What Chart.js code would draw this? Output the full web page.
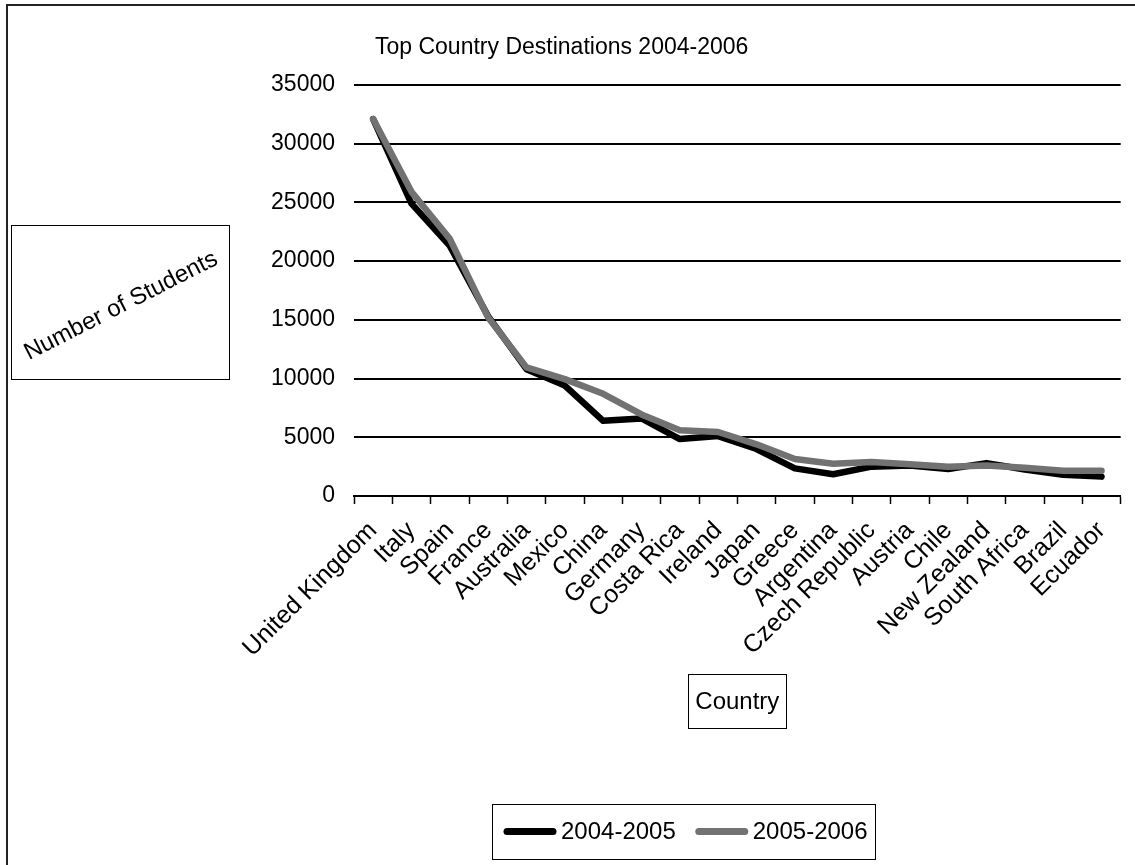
<!DOCTYPE html>
<html>
<head>
<meta charset="utf-8">
<title>Top Country Destinations 2004-2006</title>
<script src="https://cdn.jsdelivr.net/npm/chart.js@4.4.0/dist/chart.umd.min.js"></script>
<style>
  html, body { margin: 0; padding: 0; background: #ffffff; }
  #wrap { width: 1135px; height: 865px; position: relative; }
</style>
</head>
<body>
<div id="wrap"><canvas id="chart" width="1135" height="865"></canvas></div>
<script>
// Destination countries, in ranked order
const countries = [
  'United Kingdom', 'Italy', 'Spain', 'France', 'Australia', 'Mexico', 'China',
  'Germany', 'Costa Rica', 'Ireland', 'Japan', 'Greece', 'Argentina',
  'Czech Republic', 'Austria', 'Chile', 'New Zealand', 'South Africa', 'Brazil', 'Ecuador'
];

// Number of students per destination
const students2004_05 = [
  32100, 24900, 21300, 15300, 10800, 9400, 6400, 6600, 4850, 5100,
  4000, 2350, 1850, 2500, 2600, 2300, 2800, 2250, 1800, 1650
];
const students2005_06 = [
  32100, 25900, 21900, 15200, 10950, 9950, 8700, 6950, 5600, 5450,
  4400, 3150, 2750, 2900, 2700, 2500, 2600, 2400, 2150, 2150
];

const seriesNames = ['2004-2005', '2005-2006'];
const yTickValues = [0, 5000, 10000, 15000, 20000, 25000, 30000, 35000];

const chartTitle = 'Top Country Destinations 2004-2006';
const yAxisTitle = 'Number of Students';
const xAxisTitle = 'Country';

const FONT = '"Liberation Sans", Arial, Helvetica, sans-serif';
const BLACK = '#000000';
const GREY = '#727272';

// Frame, title, boxed axis titles and boxed legend
const decorations = {
  id: 'decorations',
  afterDraw(chart) {
    const ctx = chart.ctx;
    const area = chart.chartArea;
    ctx.save();

    // outer frame (top and left edges)
    ctx.strokeStyle = '#222';
    ctx.lineWidth = 2;
    ctx.beginPath();
    ctx.moveTo(7, 865);
    ctx.lineTo(7, 5);
    ctx.lineTo(1135, 5);
    ctx.stroke();

    // chart title
    ctx.fillStyle = '#000';
    ctx.font = '23px ' + FONT;
    ctx.textAlign = 'left';
    ctx.textBaseline = 'alphabetic';
    ctx.fillText(chartTitle, 375, 54);

    // y axis title in a box, slanted
    ctx.strokeStyle = '#000';
    ctx.lineWidth = 1;
    ctx.strokeRect(11.5, 225.5, 218, 154);
    ctx.save();
    ctx.translate(121, 306);
    ctx.rotate(-27 * Math.PI / 180);
    ctx.textAlign = 'center';
    ctx.textBaseline = 'middle';
    ctx.font = '24px ' + FONT;
    ctx.fillText(yAxisTitle, 0, 0);
    ctx.restore();

    // x axis title in a box, centred under the plot
    ctx.font = '24px ' + FONT;
    const xw = ctx.measureText(xAxisTitle).width;
    const cx = (area.left + area.right) / 2;
    ctx.strokeRect(Math.round(cx - xw / 2 - 7) + 0.5, 674.5, Math.round(xw + 14), 54);
    ctx.textAlign = 'center';
    ctx.textBaseline = 'middle';
    ctx.fillText(xAxisTitle, cx, 702);

    // legend
    const lx = 492, ly = 804, lw = 383, lh = 55;
    ctx.strokeRect(lx + 0.5, ly + 0.5, lw, lh);
    const midY = ly + lh / 2;
    let x = lx + 12;
    ctx.textAlign = 'left';
    chart.data.datasets.forEach((ds) => {
      ctx.save();
      ctx.strokeStyle = ds.borderColor;
      ctx.lineWidth = 7;
      ctx.lineCap = 'round';
      ctx.beginPath();
      ctx.moveTo(x + 3, midY);
      ctx.lineTo(x + 49, midY);
      ctx.stroke();
      ctx.restore();
      ctx.fillStyle = '#000';
      ctx.fillText(ds.label, x + 57, midY + 1);
      x += 57 + ctx.measureText(ds.label).width + 20;
    });

    ctx.restore();
  }
};

const chart = new Chart(document.getElementById('chart'), {
  type: 'line',
  data: {
    labels: countries,
    datasets: [
      {
        label: seriesNames[0],
        data: students2004_05,
        borderColor: BLACK,
        backgroundColor: BLACK,
        borderWidth: 6.5,
        pointRadius: 0,
        tension: 0,
        borderJoinStyle: 'round',
        borderCapStyle: 'round',
        order: 1
      },
      {
        label: seriesNames[1],
        data: students2005_06,
        borderColor: GREY,
        backgroundColor: GREY,
        borderWidth: 6.5,
        pointRadius: 0,
        tension: 0,
        borderJoinStyle: 'round',
        borderCapStyle: 'round',
        order: 0
      }
    ]
  },
  options: {
    responsive: false,
    animation: false,
    events: [],
    layout: { padding: { left: 0, right: 11, top: 85, bottom: 0 } },
    plugins: {
      legend: { display: false },
      title: { display: false },
      tooltip: { enabled: false }
    },
    scales: {
      x: {
        type: 'category',
        offset: true,
        grid: {
          display: true,
          drawOnChartArea: false,
          drawTicks: true,
          tickLength: 8,
          tickWidth: 1.5,
          tickColor: '#000',
          offset: true
        },
        border: { display: true, color: '#000', width: 2 },
        ticks: {
          color: '#000',
          font: { family: FONT, size: 25 },
          minRotation: 45,
          maxRotation: 45,
          autoSkip: false,
          padding: 12
        },
        afterFit(scale) { scale.height = 865 - 496; }
      },
      y: {
        min: 0,
        max: 35000,
        afterBuildTicks(scale) { scale.ticks = yTickValues.map(v => ({ value: v })); },
        grid: {
          color: '#000',
          lineWidth: 2,
          drawTicks: false
        },
        border: { display: false },
        ticks: {
          color: '#000',
          font: { family: FONT, size: 23 },
          padding: 19,
          callback: (v) => String(v)
        },
        afterFit(scale) { scale.width = 354; }
      }
    }
  },
  plugins: [decorations]
});
</script>
</body>
</html>
